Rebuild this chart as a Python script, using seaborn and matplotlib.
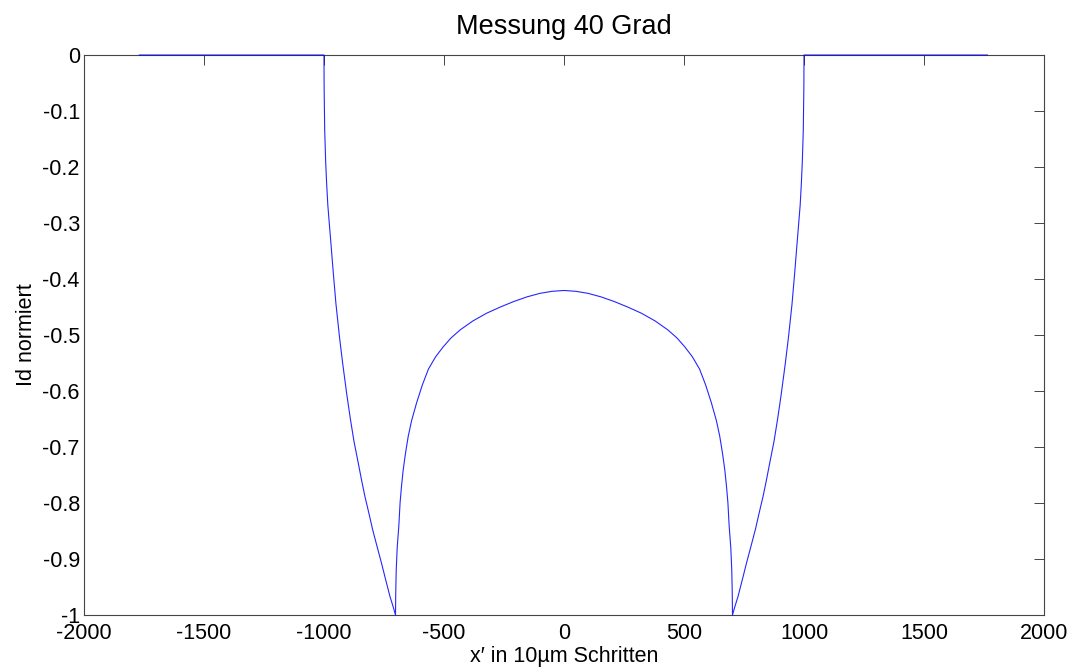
import pandas as pd
import matplotlib
matplotlib.use("Agg")
import matplotlib.pyplot as plt
import seaborn as sns

# Values (x' in 10um steps, Id normalised)
x_left = [-1770, -1000, -999.5, -999, -997, -993, -989, -984, -978, -970, -961, -950,
          -935, -922, -905, -890, -875, -857, -843, -829, -813, -797, -778, -760,
          -743, -725, -712, -702,
          -701, -699, -695, -688, -683, -677, -670, -660, -649, -635, -614, -590,
          -565, -535, -503, -470, -433, -380, -322, -265, -211, -155, -100, -50, 0]
y_left = [0.0, 0.0, -0.05, -0.07, -0.134, -0.19, -0.229, -0.268, -0.30, -0.342, -0.39, -0.445,
          -0.505, -0.551, -0.606, -0.65, -0.69, -0.729, -0.76, -0.789, -0.818, -0.848, -0.879, -0.908,
          -0.937, -0.967, -0.985, -1.0,
          -0.96, -0.92, -0.88, -0.84, -0.80, -0.77, -0.741, -0.71, -0.681, -0.653, -0.621, -0.589,
          -0.561, -0.539, -0.521, -0.505, -0.491, -0.475, -0.461, -0.45, -0.4405, -0.432, -0.4256, -0.422, -0.4205]
x_right = [50, 100, 155, 211, 265, 322, 380, 433, 470, 503, 535, 565, 590, 614, 635,
           649, 660, 670, 677, 683, 688, 695, 699, 701,
           702, 712, 725, 743, 760, 778, 797, 813, 829, 843, 857, 875, 890, 905, 922,
           935, 950, 961, 970, 978, 984, 989, 993, 997, 999, 999.5, 1000, 1765]
y_right = [-0.422, -0.4256, -0.432, -0.4405, -0.45, -0.461, -0.475, -0.491, -0.505, -0.521, -0.539,
           -0.561, -0.589, -0.621, -0.653, -0.681, -0.71, -0.741, -0.77, -0.80, -0.84, -0.88, -0.92, -0.96,
           -1.0, -0.985, -0.967, -0.937, -0.908, -0.879, -0.848, -0.818, -0.789, -0.76, -0.729, -0.69,
           -0.65, -0.606, -0.551, -0.505, -0.445, -0.39, -0.342, -0.30, -0.268, -0.229, -0.19, -0.134,
           -0.07, -0.05, 0.0, 0.0]

x_ticks = [-2000, -1500, -1000, -500, 0, 500, 1000, 1500, 2000]
y_ticks = [0, -0.1, -0.2, -0.3, -0.4, -0.5, -0.6, -0.7, -0.8, -0.9, -1]
y_ticklabels = ["0", "-0.1", "-0.2", "-0.3", "-0.4", "-0.5", "-0.6", "-0.7", "-0.8", "-0.9", "-1"]

df = pd.DataFrame({"x": x_left + x_right, "y": y_left + y_right})

sns.set_style("white")
plt.rcParams["font.family"] = ["Liberation Sans", "DejaVu Sans"]
plt.rcParams["text.color"] = "black"
plt.rcParams["axes.labelcolor"] = "black"

fig = plt.figure(figsize=(10.82, 6.70), dpi=100)
ax = fig.add_axes([0.0776, 0.0821, 0.8873, 0.8358])

sns.lineplot(data=df, x="x", y="y", sort=False, estimator=None,
             color="#0000ff", linewidth=0.8, ax=ax)
# the zero level sits on the top frame, keep it drawn above the spine
for ln in ax.lines:
    ln.set_clip_on(False)
    ln.set_zorder(3)
    ln.set_alpha(0.85)

ax.set_xlim(-2000, 2000)
ax.set_ylim(-1, 0)
ax.set_xticks(x_ticks)
ax.set_xticklabels([str(t) for t in x_ticks])
ax.set_yticks(y_ticks)
ax.set_yticklabels(y_ticklabels)

ax.tick_params(axis="both", direction="in", length=7, width=0.7, color="#444444",
               labelcolor="black", labelsize=15.5, top=True, right=True)
ax.tick_params(axis="x", pad=6)
ax.tick_params(axis="y", pad=3)
for s in ax.spines.values():
    s.set_visible(True)
    s.set_color("#444444")
    s.set_linewidth(0.8)

ax.set_title("Messung 40 Grad", fontsize=19.5, pad=15)
ax.set_xlabel("x\u2032 in 10\u00b5m Schritten", fontsize=15.5, labelpad=1)
ax.set_ylabel("Id normiert", fontsize=15.5, labelpad=4)

plt.savefig("out.png", dpi=100)
